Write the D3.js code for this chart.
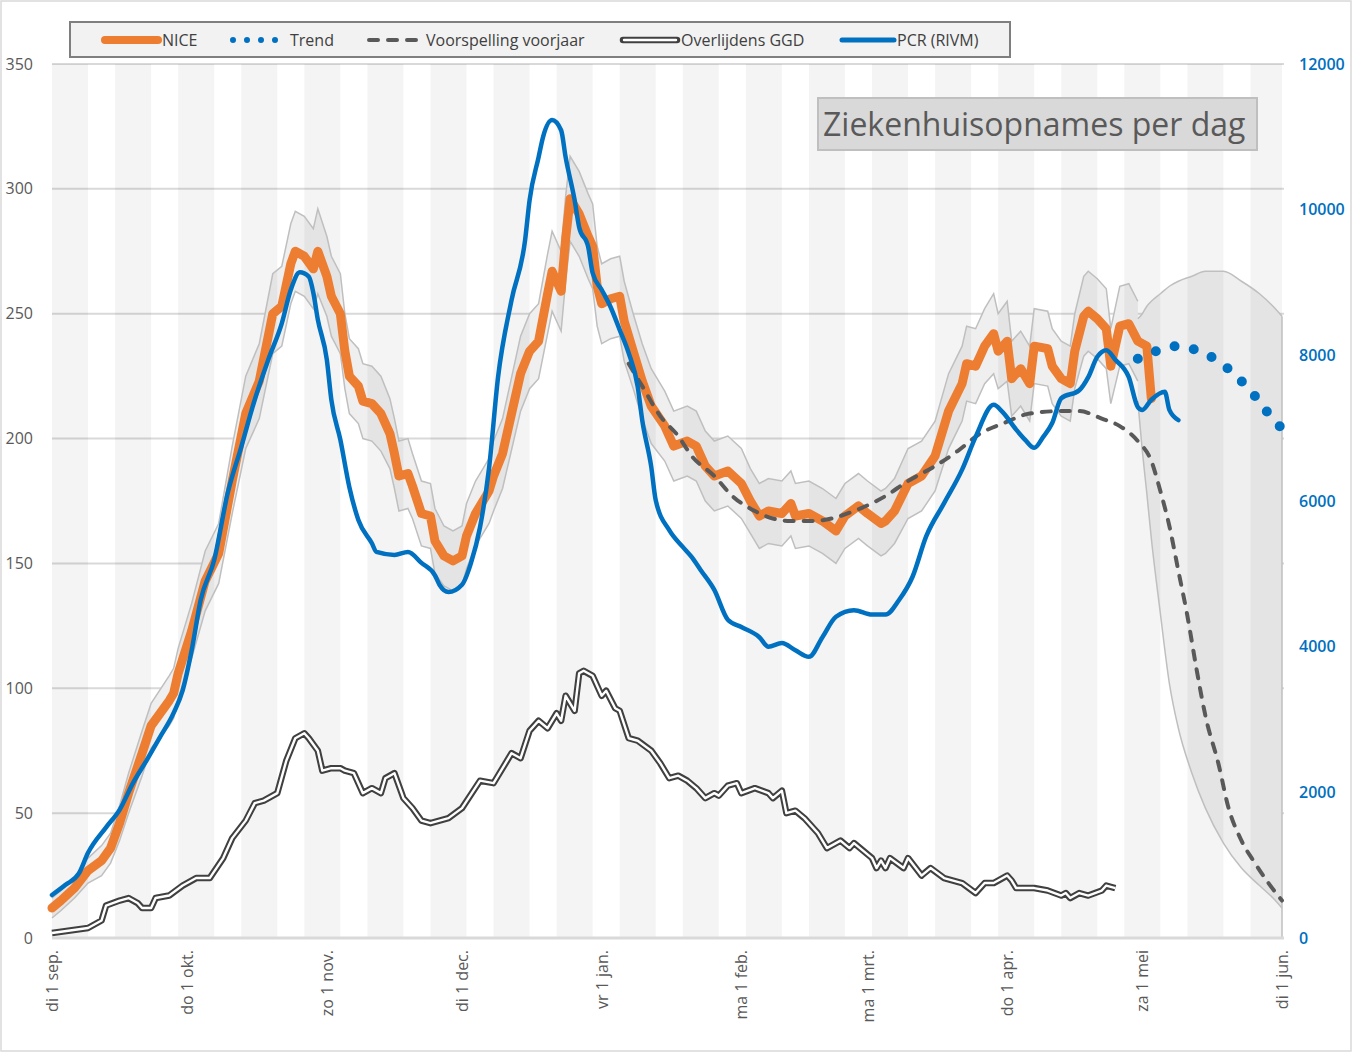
<!DOCTYPE html>
<html>
<head>
<meta charset="utf-8">
<script src="https://cdn.jsdelivr.net/npm/d3@7"></script>
<style>
	html, body { margin: 0; padding: 0; background: #fff; }
	svg { display: block; font-family: "Open Sans", sans-serif; }
</style>
</head>
<body>
<div id="chart"></div>
<script>
// dagen vanaf di 1 sep. 2020
const monthLabels = ["di 1 sep.", "do 1 okt.", "zo 1 nov.", "di 1 dec.", "vr 1 jan.", "ma 1 feb.", "ma 1 mrt.", "do 1 apr.", "za 1 mei", "di 1 jun."]
const leftTicks = [0, 50, 100, 150, 200, 250, 300, 350]
const rightTicks = [0, 2000, 4000, 6000, 8000, 10000, 12000]

// NICE ziekenhuisopnames [dag, waarde]
const nice = [[0,12],[2,15],[5,20],[8,27],[11,31],[13,36],[15,46],[17,58],[20,74],[22,85],[26,95],[27,98],[28,106],[31,123],[34,143],[37,154],[40,183],[43,210],[46,223],[49,250],[51,253],[53,270],[54,275],[56,273],[58,268],[59,275],[61,265],[62,257],[64,250],[65,235],[66,225],[68,221],[69,215],[71,214],[73,210],[75,202],[76,194],[77,185],[79,186],[80,181],[82,170],[84,169],[85,159],[87,153],[89,151],[91,153],[92,161],[94,170],[97,179],[98,185],[100,194],[104,226],[106,235],[108,239],[110,258],[111,267],[113,259],[114,280],[115,296],[117,290],[119,281],[120,277],[121,261],[122,254],[124,256],[126,257],[127,247],[129,235],[131,223],[133,213],[136,205],[138,197],[141,199],[143,197],[145,189],[147,185],[150,187],[153,182],[155,175],[157,169],[159,171],[162,170],[164,174],[165,169],[168,170],[171,167],[174,163],[176,169],[179,173],[181,170],[184,166],[185,167],[187,171],[190,182],[193,185],[196,193],[199,211],[202,222],[203,230],[205,229],[207,237],[209,242],[210,235],[212,239],[213,224],[215,228],[217,222],[218,237],[221,236],[222,229],[224,224],[226,222],[227,235],[229,249],[230,251],[232,248],[234,244],[235,229],[237,245],[239,246],[241,239],[243,237],[244,216]]

// NICE bandbreedte [dag, onder, boven]
const niceBand = [[0,8,16],[2,11,19],[5,16,24],[8,22,32],[11,25,37],[13,30,42],[15,39,53],[17,50,66],[20,65,83],[22,76,94],[26,85,105],[27,88,108],[28,96,116],[31,112,134],[34,131,155],[37,142,166],[40,170,197],[43,196,225],[46,208,238],[49,234,266],[51,237,269],[53,254,286],[54,259,291],[56,257,289],[58,252,284],[59,258,292],[61,249,281],[62,241,273],[64,234,266],[65,220,250],[66,210,240],[68,206,236],[69,200,230],[71,199,229],[73,195,225],[75,188,216],[76,180,208],[77,171,199],[79,172,200],[80,168,194],[82,157,183],[84,156,182],[85,146,172],[87,141,165],[89,139,163],[91,141,165],[92,148,174],[94,157,183],[97,166,192],[98,171,199],[100,180,208],[104,211,241],[106,220,250],[108,224,254],[110,242,274],[111,251,283],[113,243,275],[114,263,297],[115,279,313],[117,273,307],[119,264,298],[120,260,294],[121,245,277],[122,238,270],[124,240,272],[126,241,273],[127,231,263],[129,220,250],[131,208,238],[133,198,228],[136,191,219],[138,183,211],[141,185,213],[143,183,211],[145,175,203],[147,171,199],[150,173,201],[153,168,196],[155,162,188],[157,156,182],[159,158,184],[162,157,183],[164,161,187],[165,156,182],[168,157,183],[171,154,180],[174,150,176],[176,156,182],[179,160,186],[181,157,183],[184,153,179],[185,154,180],[187,158,184],[190,168,196],[193,171,199],[196,179,207],[199,196,226],[202,207,237],[203,215,245],[205,214,244],[207,222,252],[209,226,258],[210,220,250],[212,223,255],[213,209,239],[215,213,243],[217,207,237],[218,222,252],[221,221,251],[222,214,244],[224,209,239],[226,207,237],[227,220,250],[229,233,265],[230,235,267],[232,232,264],[234,228,260],[235,214,244],[237,229,261],[239,230,262],[241,223,255]]

// PCR positief (RIVM), rechteras [dag, waarde]
const pcr = [[0,590],[3,730],[6,890],[8,1170],[12,1520],[15,1760],[18,2130],[21,2440],[24,2760],[27,3090],[29,3400],[31,3950],[33,4640],[36,5190],[39,6110],[42,6740],[45,7390],[48,7940],[51,8440],[53,8900],[55,9140],[57,9080],[58,8860],[59,8490],[61,7940],[62,7390],[64,6840],[66,6190],[68,5740],[71,5420],[72,5300],[76,5260],[79,5300],[82,5150],[85,4980],[86,4850],[88,4750],[91,4850],[93,5150],[95,5640],[97,6450],[99,7700],[102,8760],[105,9580],[106,10130],[108,10720],[109,11000],[111,11230],[113,11090],[114,10720],[116,10130],[117,9760],[119,9490],[120,9130],[122,8900],[124,8660],[126,8350],[128,8030],[130,7570],[131,7110],[133,6470],[134,6010],[137,5600],[140,5370],[142,5230],[144,5050],[147,4780],[150,4370],[153,4270],[157,4130],[159,4000],[162,4050],[165,3950],[168,3860],[171,4130],[174,4410],[178,4500],[182,4440],[185,4440],[188,4640],[191,4960],[194,5510],[198,5970],[202,6430],[205,6880],[209,7320],[211,7220],[214,6980],[216,6840],[218,6730],[220,6880],[222,7070],[224,7410],[228,7520],[230,7700],[232,7980],[234,8070],[236,7940],[239,7700],[241,7290],[242,7250],[244,7390],[247,7500],[248,7250],[250,7110]]

// Overlijdens GGD [dag, waarde]
const ggd = [[0,2],[4,3],[8,4],[11,7],[12,13],[15,15],[17,16],[19,14],[20,12],[22,12],[23,16],[26,17],[29,21],[32,24],[35,24],[38,32],[40,40],[43,47],[45,54],[47,55],[50,58],[52,71],[54,80],[56,82],[57,80],[59,75],[60,67],[62,68],[64,68],[65,67],[67,66],[69,58],[71,60],[73,58],[74,64],[76,66],[78,56],[80,52],[82,47],[84,46],[88,48],[91,52],[95,63],[98,62],[101,71],[102,74],[104,72],[106,83],[108,87],[110,84],[112,90],[113,87],[114,97],[116,91],[117,106],[118,107],[120,105],[122,97],[123,99],[125,92],[126,91],[128,80],[130,79],[133,75],[135,70],[137,64],[139,65],[141,63],[143,60],[145,56],[147,58],[148,57],[150,61],[152,62],[153,58],[156,60],[159,58],[160,56],[162,59],[163,50],[165,51],[167,48],[170,42],[172,36],[175,39],[177,36],[178,38],[182,32],[183,28],[184,31],[185,28],[186,32],[189,28],[190,32],[193,25],[195,28],[198,24],[202,22],[205,18],[207,22],[209,22],[212,25],[213,23],[214,20],[218,20],[221,19],[224,17],[225,18],[226,16],[228,18],[230,17],[233,19],[234,21],[236,20]]

// Voorspelling voorjaar [dag, waarde]
const voorspelling = [[128,230],[131,221],[135,209],[139,201],[142,193],[147,185],[151,177],[156,171],[160,168],[164,167],[169,167],[173,168],[178,171],[183,175],[185,177],[190,183],[196,189],[201,195],[206,202],[211,206],[217,210],[224,211],[228,211],[233,208],[237,205],[241,199],[244,191],[246,179],[248,165],[250,147],[252,129],[254,108],[256,89],[259,69],[261,53],[264,39],[267,30],[270,22],[273,15]]

// bandbreedte voorspelling [dag, onder, boven]
const voorspellingBand = [[241,215,248],[242,195,250],[243,178,253],[244,160,255],[246,130,258],[248,102,261],[250,84,263],[253,66,265],[256,52,267],[260,38,267],[264,28,263],[268,21,258],[271,16,253],[273,12,249]]

// Trend [dag, waarde]
const trend = [[241,232],[245,235],[249,237],[253,236],[257,233],[261,228],[264,223],[267,217],[270,210],[273,204]]

const W = 1352, H = 1052
const start = new Date(Date.UTC(2020, 8, 1))
const day = d => d3.utcDay.offset(start, d)

const svg = d3.select("#chart").append("svg")
	.attr("width", W)
	.attr("height", H)

// buitenrand
svg.append("rect")
	.attr("x", 1).attr("y", 1)
	.attr("width", W - 2).attr("height", H - 2)
	.attr("fill", "#fff")
	.attr("stroke", "#d9d9d9")
	.attr("stroke-width", 1.5)

const x = d3.scaleUtc().domain([start, day(273)]).range([52, 1282])
const yL = d3.scaleLinear().domain([0, 350]).range([938, 64])
const yR = d3.scaleLinear().domain([0, 12000]).range([938, 64])

// rasterlijnen
svg.append("g")
	.selectAll("line")
	.data(leftTicks.filter(v => v > 0))
	.enter().append("line")
	.attr("x1", 52).attr("x2", 1284)
	.attr("y1", d => yL(d)).attr("y2", d => yL(d))
	.attr("stroke", "#d9d9d9")
	.attr("stroke-width", 2)

// witte vulling onder de bovenste band (verbergt rasterlijnen)
const mask = niceBand.filter(d => d[0] < 241).map(d => [d[0], d[2]])
	.concat(voorspellingBand.map(d => [d[0], d[2]]))
svg.append("path")
	.datum(mask)
	.attr("fill", "#fff")
	.attr("d", d3.area().x(d => x(day(d[0]))).y0(yL(0)).y1(d => yL(d[1])))

// NICE band
svg.append("path")
	.datum(niceBand)
	.attr("fill", "#efefef")
	.attr("d", d3.area().x(d => x(day(d[0]))).y0(d => yL(d[1])).y1(d => yL(d[2])))

// voorspelling band
svg.append("path")
	.datum(voorspellingBand)
	.attr("fill", "#efefef")
	.attr("d", d3.area().x(d => x(day(d[0]))).y0(d => yL(d[1])).y1(d => yL(d[2])).curve(d3.curveMonotoneX))

// strepen, om de twee weken
svg.append("g")
	.selectAll("rect")
	.data(d3.range(0, 273, 14))
	.enter().append("rect")
	.attr("x", d => x(day(d)))
	.attr("width", d => x(day(Math.min(d + 8, 273))) - x(day(d)))
	.attr("y", 64)
	.attr("height", 938 - 64)
	.attr("fill", "rgba(0,0,0,0.045)")

// bandlijnen
const bandLine = (acc) => d3.line().x(d => x(day(d[0]))).y(d => yL(acc(d)))
svg.append("path").datum(niceBand).attr("d", bandLine(d => d[1]))
	.attr("fill", "none").attr("stroke", "#bfbfbf").attr("stroke-width", 1.5)
svg.append("path").datum(niceBand).attr("d", bandLine(d => d[2]))
	.attr("fill", "none").attr("stroke", "#bfbfbf").attr("stroke-width", 1.5)
svg.append("path").datum(voorspellingBand).attr("d", bandLine(d => d[1]).curve(d3.curveMonotoneX))
	.attr("fill", "none").attr("stroke", "#bfbfbf").attr("stroke-width", 1.5)
svg.append("path").datum(voorspellingBand).attr("d", bandLine(d => d[2]).curve(d3.curveMonotoneX))
	.attr("fill", "none").attr("stroke", "#bfbfbf").attr("stroke-width", 1.5)
const last = voorspellingBand[voorspellingBand.length - 1]
svg.append("line")
	.attr("x1", x(day(last[0]))).attr("x2", x(day(last[0])))
	.attr("y1", yL(last[2])).attr("y2", yL(0))
	.attr("stroke", "#bfbfbf").attr("stroke-width", 1.5)

// x-as basislijn
svg.append("line")
	.attr("x1", 52).attr("x2", 1284)
	.attr("y1", yL(0)).attr("y2", yL(0))
	.attr("stroke", "#d9d9d9").attr("stroke-width", 3)

const lineL = d3.line().x(d => x(day(d[0]))).y(d => yL(d[1]))
const lineR = d3.line().x(d => x(day(d[0]))).y(d => yR(d[1]))

// Overlijdens GGD (dubbele lijn)
svg.append("path").datum(ggd).attr("d", lineL)
	.attr("fill", "none").attr("stroke", "#404040").attr("stroke-width", 6.5).attr("stroke-linejoin", "round")
svg.append("path").datum(ggd).attr("d", lineL)
	.attr("fill", "none").attr("stroke", "#fff").attr("stroke-width", 2.4).attr("stroke-linejoin", "round")

// NICE
svg.append("path").datum(nice).attr("d", lineL)
	.attr("fill", "none").attr("stroke", "#ed7d31").attr("stroke-width", 9)
	.attr("stroke-linejoin", "round").attr("stroke-linecap", "round")

// Voorspelling voorjaar
svg.append("path").datum(voorspelling).attr("d", lineL.curve(d3.curveMonotoneX))
	.attr("fill", "none").attr("stroke", "#595959").attr("stroke-width", 4)
	.attr("stroke-dasharray", "9,10").attr("stroke-linecap", "round")
lineL.curve(d3.curveLinear)

// PCR
svg.append("path").datum(pcr).attr("d", lineR.curve(d3.curveMonotoneX))
	.attr("fill", "none").attr("stroke", "#0070c0").attr("stroke-width", 4.5)
	.attr("stroke-linejoin", "round").attr("stroke-linecap", "round")

// Trend (stippellijn)
svg.append("path").datum(trend).attr("d", d3.line().x(d => x(day(d[0]))).y(d => yL(d[1])).curve(d3.curveMonotoneX))
	.attr("fill", "none").attr("stroke", "#0070c0").attr("stroke-width", 10)
	.attr("stroke-dasharray", "0,19.5").attr("stroke-linecap", "round")

// assen
const axL = svg.append("g").attr("transform", "translate(52,0)")
	.call(d3.axisLeft(yL).tickValues(leftTicks).tickSize(0).tickPadding(19))
axL.select(".domain").remove()
axL.selectAll("text").attr("fill", "#595959").style("font-size", "16px").style("font-family", "Open Sans")

const axR = svg.append("g").attr("transform", "translate(1282,0)")
	.call(d3.axisRight(yR).tickValues(rightTicks).tickFormat(d3.format("d")).tickSize(0).tickPadding(17))
axR.select(".domain").remove()
axR.selectAll("text").attr("fill", "#0070c0").style("font-size", "16px").style("font-weight", "600").style("font-family", "Open Sans")

const months = d3.utcMonth.range(start, day(274))
const axB = svg.append("g").attr("transform", `translate(0,${yL(0)})`)
	.call(d3.axisBottom(x).tickValues(months).tickFormat((d, i) => monthLabels[i]).tickSize(0))
axB.select(".domain").remove()
axB.selectAll("text")
	.attr("transform", "rotate(-90)")
	.attr("x", -12).attr("y", 0).attr("dy", ".35em")
	.attr("text-anchor", "end")
	.attr("fill", "#595959")
	.style("font-size", "16px").style("font-family", "Open Sans")

// titel
svg.append("rect")
	.attr("x", 818).attr("y", 98).attr("width", 439).attr("height", 52)
	.attr("fill", "#d9d9d9").attr("stroke", "#bfbfbf").attr("stroke-width", 2)
svg.append("text")
	.attr("x", 823).attr("y", 136)
	.attr("fill", "#595959")
	.style("font-size", "32px")
	.text("Ziekenhuisopnames per dag")

// legenda
const lg = svg.append("g")
lg.append("rect")
	.attr("x", 70).attr("y", 22).attr("width", 940).attr("height", 35)
	.attr("fill", "#f2f2f2").attr("stroke", "#7f7f7f").attr("stroke-width", 2)
const ly = 40
lg.append("line").attr("x1", 105).attr("x2", 158).attr("y1", ly).attr("y2", ly)
	.attr("stroke", "#ed7d31").attr("stroke-width", 8).attr("stroke-linecap", "round")
lg.append("line").attr("x1", 233).attr("x2", 276).attr("y1", ly).attr("y2", ly)
	.attr("stroke", "#0070c0").attr("stroke-width", 6).attr("stroke-dasharray", "0,14").attr("stroke-linecap", "round")
lg.append("line").attr("x1", 369).attr("x2", 420).attr("y1", ly).attr("y2", ly)
	.attr("stroke", "#595959").attr("stroke-width", 4).attr("stroke-dasharray", "9,10").attr("stroke-linecap", "round")
lg.append("line").attr("x1", 623).attr("x2", 677).attr("y1", ly).attr("y2", ly)
	.attr("stroke", "#404040").attr("stroke-width", 6.5).attr("stroke-linecap", "round")
lg.append("line").attr("x1", 624).attr("x2", 676).attr("y1", ly).attr("y2", ly)
	.attr("stroke", "#fff").attr("stroke-width", 2.4).attr("stroke-linecap", "round")
lg.append("line").attr("x1", 842).attr("x2", 894).attr("y1", ly).attr("y2", ly)
	.attr("stroke", "#0070c0").attr("stroke-width", 5).attr("stroke-linecap", "round")

const legendText = [["NICE", 162], ["Trend", 290], ["Voorspelling voorjaar", 426], ["Overlijdens GGD", 681], ["PCR (RIVM)", 897]]
lg.selectAll("text.lt")
	.data(legendText)
	.enter().append("text")
	.attr("class", "lt")
	.attr("x", d => d[1]).attr("y", ly).attr("dy", ".35em")
	.attr("fill", "#404040")
	.style("font-size", "16px")
	.text(d => d[0])
</script>
</body>
</html>
